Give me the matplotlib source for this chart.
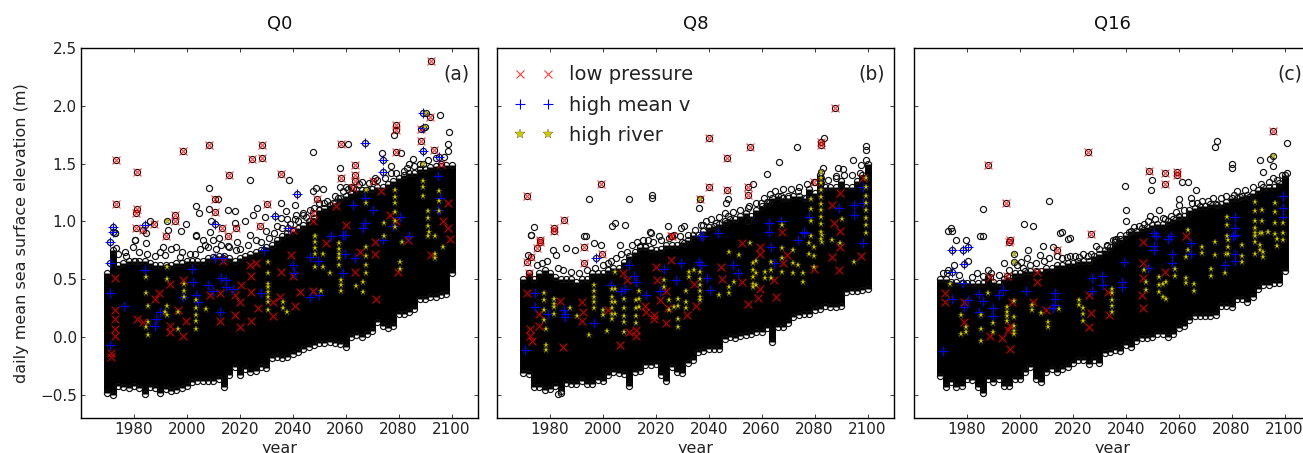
import matplotlib
matplotlib.use("Agg")
import matplotlib.pyplot as plt
import numpy as np

# envelope of the black cloud, one column every two years
years = np.arange(1970, 2101, 2)

low_a = [-.48,-.50,-.42,-.43,-.44,-.42,-.44,-.49,-.43,-.44,-.48,-.45,-.47,-.46,-.44,-.42,-.39,-.38,-.38,-.38,-.38,-.36,-.43,-.33,-.26,-.33,-.28,-.30,-.29,-.26,-.27,-.18,-.17,-.18,-.17,-.15,-.13,-.10,-.09,-.07,-.05,-.05,-.04,-.05,-.06,-.09,0,.02,0,.03,.05,.13,.10,.08,.10,.20,.20,.22,.24,.33,.33,.35,.35,.36,.37,.55]
high_a = [.55,.75,.62,.64,.66,.66,.66,.66,.64,.62,.62,.62,.62,.64,.64,.66,.66,.66,.66,.68,.69,.70,.70,.68,.66,.68,.70,.72,.74,.75,.78,.80,.84,.87,.90,.92,.94,.97,1.0,1.03,1.1,1.12,1.14,1.16,1.2,1.22,1.25,1.27,1.27,1.27,1.28,1.3,1.3,1.32,1.35,1.38,1.4,1.42,1.42,1.45,1.45,1.47,1.48,1.48,1.49,1.49]

low_b = [-.31,-.32,-.43,-.43,-.46,-.45,-.42,-.47,-.40,-.41,-.41,-.38,-.41,-.41,-.37,-.38,-.33,-.30,-.31,-.32,-.42,-.30,-.29,-.24,-.24,-.23,-.33,-.38,-.26,-.30,-.31,-.22,-.20,-.13,-.12,-.10,-.10,-.10,-.02,0,-.01,.01,.02,.03,.04,.04,.08,-.04,.09,.09,.12,.17,.19,.20,.20,.23,.24,.27,.26,.26,.27,.39,.40,.40,.41,.42]
high_b = [.50,.55,.50,.55,.58,.55,.52,.50,.50,.50,.48,.50,.50,.55,.55,.55,.58,.60,.60,.65,.70,.74,.78,.78,.76,.75,.76,.80,.80,.80,.82,.84,.88,.88,.92,.95,.96,.98,1.0,1.02,1.02,1.05,1.07,1.05,1.1,1.13,1.17,1.2,1.22,1.2,1.2,1.22,1.22,1.2,1.28,1.25,1.4,1.3,1.3,1.3,1.35,1.3,1.3,1.35,1.4,1.5]

low_c = [-.34,-.43,-.39,-.43,-.42,-.36,-.37,-.43,-.48,-.36,-.39,-.36,-.42,-.42,-.36,-.36,-.30,-.26,-.36,-.39,-.30,-.28,-.30,-.28,-.26,-.22,-.20,-.20,-.23,-.20,-.22,-.14,-.13,-.11,-.12,-.07,-.09,-.03,-.01,-.01,0,.03,.03,0,.03,.08,.10,.15,.18,.18,.18,.18,.19,.27,.27,.26,.33,.33,.30,.35,.42,.45,.45,.47,.47,.57]
high_c = [.50,.50,.48,.48,.47,.47,.47,.47,.47,.52,.48,.47,.50,.52,.55,.55,.57,.57,.57,.57,.60,.60,.62,.62,.64,.64,.66,.66,.66,.70,.72,.75,.78,.82,.85,.88,.92,.92,.94,.95,.97,.98,.98,1.0,1.02,1.05,1.05,1.1,1.12,1.13,1.13,1.15,1.15,1.15,1.17,1.2,1.2,1.22,1.23,1.25,1.27,1.3,1.3,1.3,1.33,1.4]

# points outside the cloud
circ_a_x = [2047.6,2023.7,2038.6,2008.3,2060.8,2057.7,2095.5,2099,2098.6,2078.2,2073.8,2081,2085.4,2077.2,2082.2,2098.6,2003.6,2004.6,2008.3,2011.7,2015.5,2018.3,2026.5,2035.7,2040.7,2037.6,2046.4,2048.9,2051.4,2047.6,2057.7,2060.2,1999.8,1986.2,1992.8,1997.9,2003.6,2008.6,2009.2,2018,2022,2024.9,2029.4,2035.7,2041.3,2043.9,2055.2,1972.7,1980.3,1980.3,1984.7,1979.6,1972.7,1973.3,1976.5,1980.3,1991,1991.6,2003.6,1996,2002.9,2008,2009.8,2015.5,2018.7,1997.3,1984.7,
            1974,1977,1982,1985,1988,1990,1994,1998,2001,2005,2007,2011,2013,2016,2020,2023,2026,2028,2031,2033,2036,2039,2042,2045,2050,2053,2056,2059,2062,2065,2069,2072,2075,2079,2083,2086,2091,2094,2097,
            2006,2012,2019,2024,2030,2034,2038,2041,2044,2048,2052,2057,2061,2066,2071,2077,2084,2088]
circ_a_y = [1.60,1.36,1.36,1.29,1.67,1.46,1.92,1.77,1.67,1.75,1.59,1.59,1.54,1.48,1.44,1.61,1.13,1.07,1.11,1.19,1.10,1.09,1.12,1.16,1.14,1.09,1.10,1.29,1.28,1.26,1.30,1.30,.98,1.0,.93,.92,.88,.91,1.0,.99,1.0,1.06,1.04,1.03,1.06,1.07,1.16,.90,.84,.84,.81,.78,.90,.77,.74,.66,.78,.71,.87,.78,.72,.78,.84,.79,.75,.69,.90,
            .72,.70,.74,.72,.70,.74,.76,.74,.72,.76,.80,.76,.80,.78,.76,.80,.84,.82,.86,.90,.94,.98,1.0,1.04,1.16,1.18,1.22,1.26,1.3,1.32,1.33,1.36,1.38,1.42,1.46,1.48,1.53,1.55,1.56,
            .84,.86,.82,.88,.92,.96,1.02,1.02,1.06,1.12,1.16,1.2,1.28,1.34,1.38,1.42,1.5,1.5]

circ_b_x = [2073.3,2066.6,2061.9,2056.6,2083.7,2094.4,2099.4,2099.4,2099.4,2097.5,2088.7,2090.6,1994.9,2009.7,2018.4,2018.4,2046.5,2047.1,2036.4,2047.4,2055.3,2069.8,2067.3,2062.9,2083,2088.1,1973.8,1972.8,2004.6,2003.3,2008.3,2017.8,2024.7,2030.8,2029.5,1993.6,2037.7,2042.7,2046.5,2054.7,2059.7,2073.6,2076.7,1972.8,1971.8,1981,1982.2,1986,1989.6,1992.8,1996.6,1999.2,2006.6,2018.3,2021.3,2003,2014,2016,2030.8,1983,1984.2,
            1975,1977,1979,1983,1985,1988,1991,1994,1997,2000,2002,2005,2007,2009,2011,2013,2015,2017,2019,2022,2025,2027,2029,2032,2035,2037,2039,2041,2044,2046,2049,2052,2055,2058,2061,2063,2065,2068,2071,2074,2077,2080,2085,2088,2091,2094,2097]
circ_b_y = [1.64,1.51,1.41,1.32,1.72,1.53,1.65,1.62,1.53,1.49,1.46,1.45,1.19,1.19,1.23,1.20,1.16,1.19,1.12,1.05,1.13,1.22,1.22,1.16,1.46,1.39,.95,.88,.99,.96,.97,.91,.96,.96,.94,.87,.97,.99,.99,1.0,1.16,1.26,1.20,.88,.71,.75,.71,.77,.75,.87,.81,.80,.80,.90,.87,.66,.79,.79,.81,-.49,-.48,
            .62,.64,.66,.60,.58,.56,.55,.58,.60,.62,.64,.68,.72,.74,.80,.82,.84,.84,.82,.84,.86,.88,.87,.88,.93,.97,1.0,1.02,1.04,1.07,1.08,1.1,1.12,1.16,1.2,1.24,1.26,1.28,1.28,1.3,1.32,1.34,1.36,1.38,1.4,1.4,1.42]

circ_c_x = [2074.6,2073.6,2100.8,2090.9,2094.6,2095.5,2080.3,2080.3,2091.8,2100.8,2095.5,2039.6,2050,2049.4,2061.4,2063.5,2066.4,2064.5,2060.1,2060.3,2065.1,2011.1,1985.9,2040.1,2052.6,2049.2,2055,2060,2040.2,2001.7,2005.1,1974,1974.4,1985.9,2015.9,2018.9,1975.8,1979.6,2041.4,2036.2,2048.3,2074.6,2080.9,2083.2,2086.7,1973,1985,1980.5,1975,1972.3,1983.7,1987.8,1994,2000.4,2003.2,2002.8,2008.8,2007.6,2012.6,2017.7,2022.4,2025.8,2028.7,2032.8,2035.3,2018,2015.1,
            1971,1973,1977,1982,1986,1989,1992,1996,1999,2001,2004,2006,2009,2011,2014,2016,2019,2021,2024,2027,2030,2033,2036,2038,2043,2045,2047,2051,2054,2057,2059,2062,2067,2069,2071,2073,2076,2078,2082,2085,2088,2091,2094,2097,2099]
circ_c_y = [1.70,1.64,1.68,1.53,1.54,1.48,1.50,1.46,1.43,1.42,1.38,1.31,1.36,1.27,1.34,1.34,1.27,1.20,1.19,1.14,1.16,1.18,1.11,1.10,1.10,1.05,1.02,1.04,1.0,.98,.96,.94,.92,.87,.91,.86,.84,.84,.91,.85,1.0,1.14,1.23,1.21,1.21,.92,.87,.66,.62,.55,.55,.58,.64,.65,.75,.68,.79,.71,.78,.69,.69,.70,.79,.79,.84,.85,.90,
            .55,.58,.54,.52,.53,.55,.54,.58,.62,.60,.62,.64,.66,.68,.70,.68,.70,.70,.72,.72,.76,.80,.84,.88,.95,.96,.98,1.02,1.03,1.05,1.08,1.1,1.16,1.18,1.18,1.2,1.2,1.22,1.26,1.27,1.3,1.32,1.34,1.36,1.4]

# low pressure days
red_a_x = [1973.1,1981.3,1998.6,2008.3,2024.5,2028.5,2028.5,2016.1,2035.5,1973.2,1981.3,1980.6,1995.7,2010.5,2010.5,2030.3,2049.3,2058.2,2058.2,2063.4,2063.4,2063.4,2079.1,2079.1,2088.4,2092.1,2088.4,2079.1,2092,2093.2,1980.6,1983.4,1987.4,1992.2,1995.7,2013.4,2015.5,2018.7,2027.5,2040,2070.3,2073.5,2056.4,2047.6,2047.6,2062.7,2096,
           1972.7,1972.7,1972.7,1972.7,1972.7,1971.4,1971.4,1981,1983.4,1987.8,1989.4,1993.5,1993.5,1993.7,1998.5,1998.5,1999.8,1996.6,2008.6,2012.4,2012.4,2013.6,2018,2020,2018,2020.2,2020.6,2023.7,2026.2,2024.3,2024.3,2024.3,2026.9,2032.5,2032.5,2035.7,2035,2039.4,2040,2042.6,2040.7,2047.6,2052.7,2063.4,2065.3,2070.9,2071.6,2070.9,2079.7,2083.5,2092.3,2099.3,2076.6,2079,2098.6,2096.8,2098.6,2060.2]
red_a_y = [1.53,1.43,1.61,1.66,1.54,1.55,1.66,1.40,1.41,1.15,1.11,1.07,1.06,1.19,1.08,1.15,1.19,1.67,1.38,1.49,1.40,1.35,1.83,1.79,1.70,2.39,1.80,1.60,1.90,1.62,.94,.93,.98,.87,1.0,.94,.87,.94,.96,.93,1.35,1.26,1.13,1.07,1.0,1.29,1.50,
           .51,.23,.16,.07,.01,-.14,-.17,.16,.13,.33,.38,.46,.10,.04,.49,.01,.14,.23,.36,.14,.38,.66,.36,.30,.19,.09,.45,.62,.64,.53,.39,.14,.25,.18,.30,.56,.35,.71,.53,.39,.27,.40,.81,.56,.74,.82,.33,.72,.56,.84,.71,.85,1.06,1.0,1.16,1.0,.94,.97]

red_b_x = [2087.7,2040.2,2055.6,2046.8,2082.4,2082.4,1999.3,2040.2,2046.8,2054.7,2054.7,1971.3,2036.7,1985.4,1981.4,1976.3,2079.6,2025.7,1976.3,1975.3,1972.8,1971.2,1972.2,1992.8,1992.8,1999.7,2026.2,1981.4,
           1971.2,1972.6,1972.6,1973.1,1975.9,1975.9,1983.8,1984.8,1992.1,1992.4,1992.1,2001.8,2006.6,2007.5,2009.3,2010,2012.5,2012.5,2015.9,2016.3,2019.4,2019.4,2020,2020.3,2021.7,2023.8,2024.5,2025.7,2023.8,2031.8,2035.2,2034.5,2044.6,2044.9,2052.4,2052.4,2054.7,2058.5,2059.3,2059.3,2059.3,2064.8,2065.6,2067.9,2069.5,2079.8,2086.5,2089.3,2089.6,2097.5,2086.5,2089.6,2087.4,2089.6,2067.7,2098.1]
red_b_y = [1.98,1.72,1.64,1.55,1.69,1.66,1.32,1.30,1.27,1.30,1.23,1.22,1.19,1.01,.94,.84,1.34,.87,.82,.77,.69,.65,.55,.78,.64,.72,.87,.92,
           .38,.07,.01,-.03,.20,.10,.31,-.09,.30,.22,.14,.23,-.07,.55,.49,.04,.06,.01,.27,.22,.19,.16,.61,.49,.32,.12,.25,.67,.40,.19,.27,.46,.61,.50,.81,.48,.29,.34,.78,.72,.42,.49,.35,.64,.71,.59,.69,.58,.78,.70,1.14,1.25,.99,.92,.91,1.38]

red_c_x = [1987.9,2025.8,2095.7,1994.9,2048.8,2054.8,2054.8,2059.2,2059.2,2026.9,1996.2,1996,2013.9,2006.6,2006.6,1988.7,1995,1971.7,1971.7,1979,1979,1988.7,1993.1,1996.2,1995.6,1996.2,1996.9,2004.8,2009.8,2026.1,2026.9,2026.1,2033.4,2033.8,2046,2046.6,2046.6,2046.4,2046.6,2054.8,2062.7]
red_c_y = [1.49,1.60,1.78,1.16,1.44,1.42,1.32,1.43,1.40,.89,.84,.82,.75,.56,.48,.52,.53,.38,.30,.30,.13,.01,-.01,.10,.06,-.10,.30,.30,.23,.36,.21,.09,.39,.19,.36,.82,.64,.51,.25,.56,.87]

# high mean v days
blue_a_x = [2067.2,2041.6,2089.2,2089.2,2089.2,2074,2074,2095.2,1972,1972,1984,2010.5,2033.2,2038.2,1970.8,1971,1971,1970.8,1976.1,1984,1987.8,1988.2,1989.7,2002,2002.3,1998.5,2003.6,2004.2,2008,2009.8,2010.5,2013.6,2013,2014.9,2014.9,2017.4,2012.4,2028,2029,2040,2040.5,2046.4,2046.4,2050,2049.5,2059,2059.6,2063.4,2054.6,2059.6,2074,2084,2067.2,2067.2,2066.5,2070.3,2080.4,2078,2094.9,2095.5,2094.9,2062.7,2054.6,2059]
blue_a_y = [1.68,1.24,1.94,1.81,1.61,1.53,1.43,1.56,.95,.91,.97,.98,1.05,.94,.82,.64,.38,-.07,.27,.58,.10,.16,.22,.59,.48,.35,.36,.30,.45,.40,.68,.68,.51,.49,.43,.42,.22,.38,.75,.62,.55,.69,.35,.36,.66,.55,.72,.68,.87,.88,.84,.87,1.2,.99,.94,1.1,1.04,.96,1.39,1.2,1.1,1.14,.87,.88]

blue_b_x = [1970.7,1974.3,1974.3,1979.1,1985.4,1985.7,1985.7,1996.8,1997.4,2003,2006.8,2008.3,2010,2011.9,2012.5,2016.3,2021.7,2023.2,2027.6,2029.5,2036.4,2037,2037.7,2039.3,2040.6,2049,2050.9,2063.5,2064.8,2073.8,2076.1,2098.1,2043.4,2089.3,2095,2095,2098.1,2098.1,2062.9,2062.9,2067.3,2078,2076.1,2037]
blue_b_y = [-.11,.38,.26,.20,.23,.20,.17,.12,.68,.45,.40,.42,.62,.53,.48,.36,.40,.59,.49,.64,.65,.62,.87,.51,.41,.62,.55,.78,.64,.84,.90,.81,.90,1.12,1.14,1.06,1.30,1.16,.99,.91,1.0,1.04,.91,.87]

blue_c_x = [1974.5,1978.6,1980.5,1978.9,1974.5,1971.1,1974.5,1978.6,1978.9,1980.5,1984.5,1986.2,1984.5,1989.7,1989.7,1992.2,1993.5,2002.5,2013.3,2013.3,2013.3,2012.6,2027.4,2027.4,2031.1,2031.5,2038.7,2038.7,2039.4,2048.5,2050.7,2050.7,2050.7,2056.1,2057.6,2057.6,2064.6,2064.6,2081.3,2081.3,2081.3,2077.5,2081.3,2081.3,2080.6,2099.3,2099.3,2099.3,2051.4,2057]
blue_c_y = [.75,.75,.78,.63,.56,-.12,.33,.47,.26,.32,.37,.31,.22,.25,.18,.36,.41,.40,.38,.33,.28,.25,.51,.40,.53,.45,.48,.43,.65,.60,.90,.79,.75,.85,.72,.64,.81,.72,.88,.72,.66,.62,1.04,.94,.87,1.22,1.12,1.04,.87,.87]

# high river days
star_a_x = [1992.5,2090.4,2090.1,2057.3,2057.3,2057.3,2057.3,2057.3,2058.3,2058.3,2058.3,2048.3,2048.3,2048.3,2048.3,2048.3,2051.4,2051.4,2053.9,2050.8,2030.6,2030.6,2030.6,2030.6,2030.6,2030.6,2030.6,2030.6,2003.6,2003.6,2003.6,2003.6,2003.6,1999,1999,1999,1992.5,1992.5,1992.5,1991.6,1992.5,1984.4,1984.4,1985.5,1985.5,1984.4,1985.5,1996.6,1996.6,2007.3,2036.5,2036.5,2037.8,2067.5,2067.5,2067.5,2067.5,2066.5,2066.5,2063.8,2080.6,2080.6,2081.4,2091.3,2093.8,2093.8,2093.8,2096.8,2067.5,2067.5,2078.5,2078.5,2078.5,2078.5,2078.5,2078.5,2074.3,2074.3,2089.2,2089.2,2089.2,2089.2,2091.1,2091.1,2091.1,2091.1,2095.1,2095.1,2095.1,2048.3]
star_a_y = [1.0,1.94,1.82,.81,.76,.72,.68,.62,.49,.45,.40,.87,.82,.77,.72,.61,.72,.61,.55,.40,.65,.55,.46,.43,.39,.35,.30,.23,.32,.25,.19,.14,.07,.46,.40,.35,.61,.50,.27,.22,.19,.52,.38,.27,.13,.09,.02,.22,.07,.24,.30,.25,.22,.78,.70,.62,.55,.48,.39,.44,.65,.59,.82,.91,.87,.72,.68,.78,1.27,1.16,1.27,1.21,1.16,1.08,1.0,.95,.99,.87,1.5,1.35,1.3,1.22,1.09,1.03,.96,.87,1.26,1.18,1.09,.87]

star_b_x = [2036.7,1977.9,1977.9,1977.9,1977.9,1978.5,1978.5,1978.5,1981.4,1981.4,1981.4,1981.4,1996.5,1996.5,1996.5,1996.5,1996.5,1994.9,1990.4,1987.7,2000,2000,2001.6,2003.3,2003.3,2003.3,2003.3,2003.3,2003.3,2004.6,2004.6,2004.6,2004.6,2007.8,2007.8,2007.8,2007.8,2008.1,2012.5,2012.5,2012.5,2012.5,2013.8,2013.8,2013.8,2023.2,2023.2,2025.1,2025.1,2028.2,2028.2,2028.2,2028.2,2027,2031.4,2031.4,2031.4,2032.6,2032.6,2036.7,2036.7,2036.7,2036.7,2036.7,2036.7,2034.5,2043.7,2047.8,2047.8,2047.8,2049.6,2051.5,2055.6,2056.6,2056.6,2056.6,2056.6,2056.6,2057.8,2057.8,2057.8,2061.2,2061.2,2063.5,2063.5,2063.5,2067.7,2067.7,2067.7,2071.7,2071.7,2071.7,2073.8,2075.5,2075.5,2078,2078,2079.9,2079.9,2079.9,2082.7,2082.7,2086.5,2089.6,2094.7,
            2082.4,2082.4,2082.4,2082.4,2082.4,2082.4,2082.4,2082.4,2082.4,2082.4,2082.4,2078.6,2078.6,2078.6,2078.6,2099.4,2099.4,2099.4,2099.4,2099.4,2099.4,2099.4,2099.4,2090.3,2067.7]
star_b_y = [1.19,.38,.32,.23,.15,.07,-.07,-.11,.33,.29,.26,.20,.45,.40,.35,.30,.25,.02,.18,.25,.23,.19,.05,.42,.35,.30,.25,.20,.16,.56,.42,.30,.20,.33,.25,.18,.13,.04,.32,.25,.18,.12,.40,.33,.26,.49,.43,.32,.23,.33,.27,.16,.09,.26,.40,.30,.25,.56,.52,.56,.50,.45,.40,.35,.32,.58,.36,.74,.43,.38,.48,.71,.81,.64,.58,.52,.46,.43,.66,.55,.45,.56,.51,.65,.58,.51,.77,.68,.56,.75,.64,.55,.62,.55,.48,.81,.72,.78,.70,.61,.88,.82,.84,.81,.65,
            1.43,1.38,1.33,1.27,1.21,1.15,1.10,1.04,.98,.91,.85,1.19,1.11,1.0,.87,1.38,1.30,1.22,1.16,1.10,1.03,.97,.90,1.02,.97]

star_c_x = [2095.7,1973.6,1977.7,1977.7,1979.6,1979.6,1985.5,1985.5,1985.5,1987.8,1989.7,1989.7,1995,1995,1995,1995,1997.8,1997.8,1997.8,1997.8,1997.8,1997.8,1997.8,2004.4,2004.4,2007.8,2010.7,2010.7,2014.8,2022.4,2022.4,2023.7,2023.7,2023.7,2034.7,2034.7,2034.7,2034.7,2034.7,2047,2047.6,2047.6,2052.7,2052.7,2052.7,2054.2,2054.2,2055.4,2055.4,2058.8,2058.8,2062.6,2062.6,2065.8,2065.8,2062.6,2063.6,2068.7,2068.7,2072.4,2072.4,2073.7,2073.7,2077.5,2077.9,2078.8,2078.8,2078.8,2083.8,2083.8,2083.8,2088.8,2088.8,2088.8,2090.7,2090.7,2090.7,2092,2092,2093.9,2097,2097,2099.5,
            2078.1,2078.1,2078.1,2088.8,2088.8,2088.8,2088.8,2088.8,2091.3,2091.3,2091.3,2093.8,2096.4,2096.4,2096.4,2096.4,2099.6,2099.6,2063.6]
star_c_y = [1.57,.46,.19,.03,.09,.04,.19,.07,-.03,.38,.12,.04,.26,.22,.18,.14,.31,.17,.10,.05,.03,.72,.65,.28,.23,.21,.13,.09,.24,.32,.28,.25,.20,.14,.42,.38,.32,.27,.22,.58,.48,.41,.52,.45,.39,.46,.35,.48,.33,.59,.53,.51,.47,.46,.40,.69,.75,.78,.73,.59,.53,.82,.71,.55,.72,.84,.78,.72,.80,.70,.65,.90,.82,.72,.90,.80,.75,.74,.69,.91,.85,.79,.84,
            1.04,.97,.87,1.17,1.09,1.0,.94,.87,1.10,1.0,.90,.91,1.16,1.08,.99,.89,.99,.90,.93]

titles = ["Q0", "Q8", "Q16"]
letters = ["(a)", "(b)", "(c)"]
lows = [low_a, low_b, low_c]
highs = [high_a, high_b, high_c]
circ_x = [circ_a_x, circ_b_x, circ_c_x]
circ_y = [circ_a_y, circ_b_y, circ_c_y]
red_x = [red_a_x, red_b_x, red_c_x]
red_y = [red_a_y, red_b_y, red_c_y]
blue_x = [blue_a_x, blue_b_x, blue_c_x]
blue_y = [blue_a_y, blue_b_y, blue_c_y]
star_x = [star_a_x, star_b_x, star_c_x]
star_y = [star_a_y, star_b_y, star_c_y]

W, H = 1303.0, 453.0
lefts = [81, 497, 914]
fig = plt.figure(figsize=(W/100, H/100), dpi=100)

for i in range(3):
    ax = fig.add_axes([lefts[i]/W, 1-418/H, 397/W, 370/H])

    # the cloud itself, then the circles along its edges
    ax.vlines(years, lows[i], highs[i], color="k", lw=5.0, capstyle="butt", zorder=2)
    circ = dict(ls="none", marker="o", mfc="none", mec="#111111", ms=4.4, mew=0.85, zorder=2.5)
    ax.plot(years, lows[i], **circ)
    ax.plot(years, highs[i], **circ)
    ax.plot(circ_x[i], circ_y[i], **circ)
    # every coloured mark sits on one of the daily circles
    ax.plot(red_x[i], red_y[i], **circ)
    ax.plot(blue_x[i], blue_y[i], **circ)
    ax.plot(star_x[i], star_y[i], **circ)

    ax.plot(red_x[i], red_y[i], ls="none", marker="x", color="r", alpha=0.75, ms=6.2, mew=0.8, zorder=3, label="low pressure")
    ax.plot(blue_x[i], blue_y[i], ls="none", marker="+", color="#0000ff", ms=7, mew=0.8, zorder=3.1, label="high mean v")
    ax.plot(star_x[i], star_y[i], ls="none", marker="*", color="#d0c800", mec="#333300", mew=0.2, ms=5, zorder=3.2, label="high river")

    ax.set_xlim(1960, 2110)
    ax.set_ylim(-0.7, 2.5)
    ax.set_xticks(np.arange(1980, 2101, 20))
    ax.set_yticks(np.arange(-0.5, 2.51, 0.5))
    ax.tick_params(direction="in", top=True, right=True, length=3, width=0.6, labelsize=11, pad=3, colors="#222222")
    for s in ax.spines.values():
        s.set_linewidth(1.0)
    if i > 0:
        ax.set_yticklabels([])
    else:
        ax.set_ylabel("daily mean sea surface elevation (m)", fontsize=11.5, color="#222222", labelpad=8)
    ax.set_xlabel("year", fontsize=11.5, color="#222222", labelpad=2.5)
    ax.set_title(titles[i], fontsize=13, pad=14, color="#111111")
    ax.text(0.978, 0.93, letters[i], transform=ax.transAxes, ha="right", va="center", fontsize=13.5, color="#222222")
    if i == 1:
        leg = ax.legend(loc="upper left", numpoints=2, frameon=False, fontsize=14,
                        bbox_to_anchor=(0.0, 1.0), labelspacing=0.58, handletextpad=0.8, borderpad=0.4)
        leg.legend_handles[2].set_markersize(7.5)
        for t in leg.get_texts():
            t.set_color("#222222")

fig.savefig("out.png", dpi=100)
